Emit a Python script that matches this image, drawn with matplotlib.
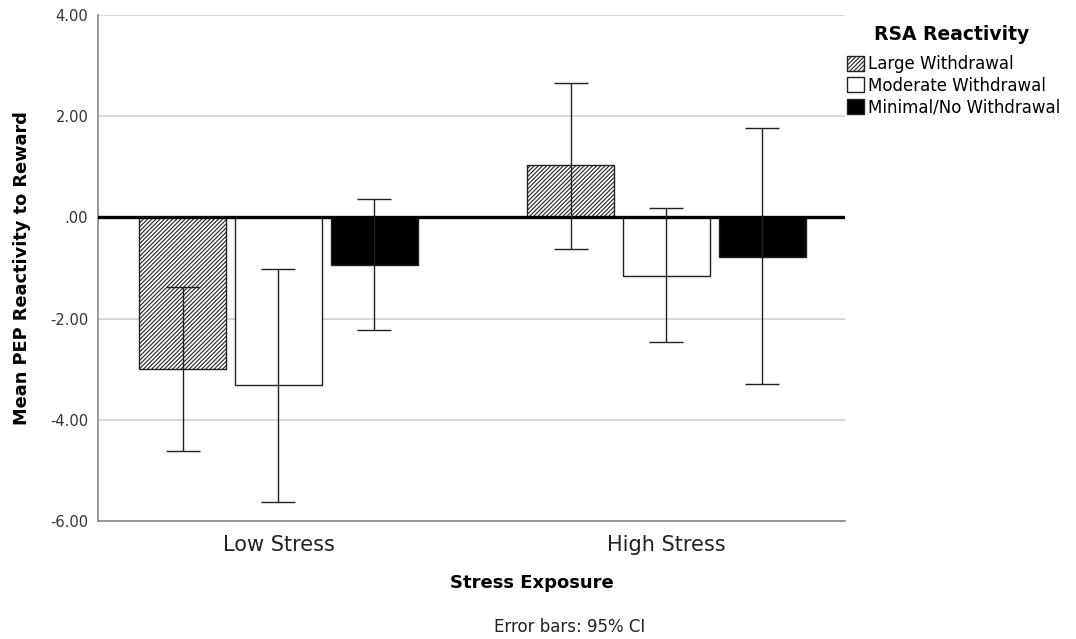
import matplotlib.pyplot as plt
import matplotlib.ticker as mticker
import numpy as np
from matplotlib.patches import Patch

plt.rcParams['font.family'] = ['DejaVu Sans']
plt.rcParams['hatch.linewidth'] = 0.8
plt.rcParams['hatch.color'] = '#444444'

stressGroups = ['Low Stress', 'High Stress']
rsaGroups = ['Large Withdrawal', 'Moderate Withdrawal', 'Minimal/No Withdrawal']

# group means, rows follow rsaGroups, columns follow stressGroups
means = {
    'Large Withdrawal': [-3.00, 1.03],
    'Moderate Withdrawal': [-3.31, -1.16],
    'Minimal/No Withdrawal': [-0.94, -0.78],
}
ciLow = {
    'Large Withdrawal': [-4.62, -0.62],
    'Moderate Withdrawal': [-5.62, -2.47],
    'Minimal/No Withdrawal': [-2.22, -3.29],
}
ciHigh = {
    'Large Withdrawal': [-1.37, 2.66],
    'Moderate Withdrawal': [-1.02, 0.19],
    'Minimal/No Withdrawal': [0.37, 1.76],
}

barFill = {'Large Withdrawal': 'white', 'Moderate Withdrawal': 'white', 'Minimal/No Withdrawal': 'black'}
barHatch = {'Large Withdrawal': '////////', 'Moderate Withdrawal': None, 'Minimal/No Withdrawal': None}

W, H = 1076, 639
fig = plt.figure(figsize=(W / 100, H / 100), dpi=100)
ax = fig.add_axes([98 / W, (H - 521) / H, 747 / W, 506 / H])

x = np.arange(len(stressGroups))
barWidth = 0.224
step = 0.247

for i, grp in enumerate(rsaGroups):
    pos = x + (i - 1) * step
    vals = np.array(means[grp])
    ax.bar(pos, vals, barWidth, color=barFill[grp], edgecolor='#222222', linewidth=1.0,
           hatch=barHatch[grp], zorder=2)
    lowErr = vals - np.array(ciLow[grp])
    highErr = np.array(ciHigh[grp]) - vals
    ax.errorbar(pos, vals, yerr=[lowErr, highErr], fmt='none', ecolor='#222222',
                elinewidth=1.0, capsize=12.5, capthick=1.0, zorder=4)

ax.axhline(0, color='black', linewidth=2.4, zorder=3)

ax.set_xlim(-0.465, 1.46)
ax.set_ylim(-6, 4)
ax.set_yticks(np.arange(-6, 4.1, 2))
ax.yaxis.set_major_formatter(mticker.FuncFormatter(lambda v, p: '.00' if v == 0 else '%.2f' % v))
ax.set_xticks(x)
ax.set_xticklabels(stressGroups, fontsize=15)
ax.tick_params(axis='y', length=0, pad=7, labelsize=10.5, labelcolor='#333333')
ax.tick_params(axis='x', length=0, pad=10, labelcolor='#222222')

ax.grid(axis='y', color='#d4d4d4', linewidth=1.3, zorder=0)
ax.set_axisbelow(True)
for side in ['top', 'right']:
    ax.spines[side].set_visible(False)
for side in ['left', 'bottom']:
    ax.spines[side].set_color('#888888')
    ax.spines[side].set_linewidth(1.2)

fig.text(22 / W, 1 - 268 / H, 'Mean PEP Reactivity to Reward', rotation=90,
         ha='center', va='center', fontsize=12.8, fontweight='bold')
fig.text(532 / W, 1 - 583 / H, 'Stress Exposure', ha='center', va='center',
         fontsize=13, fontweight='bold')
fig.text(570 / W, 1 - 627 / H, 'Error bars: 95% CI', ha='center', va='center',
         fontsize=12, color='#222222')

# legend title placed by hand so the entries sit lower beneath it
fig.text(952 / W, 1 - 34 / H, 'RSA Reactivity', ha='center', va='center',
         fontsize=13.5, fontweight='bold')
handles = [Patch(facecolor=barFill[g], edgecolor='#222222', hatch=barHatch[g], label=g)
           for g in rsaGroups]
leg = fig.legend(handles=handles, loc='upper left', bbox_to_anchor=(847 / W, 1 - 55 / H),
                 frameon=False, fontsize=12,
                 handlelength=1.0, handleheight=1.0, handletextpad=0.25,
                 labelspacing=0.22, borderpad=0, borderaxespad=0)

fig.savefig('out.png', dpi=100)
